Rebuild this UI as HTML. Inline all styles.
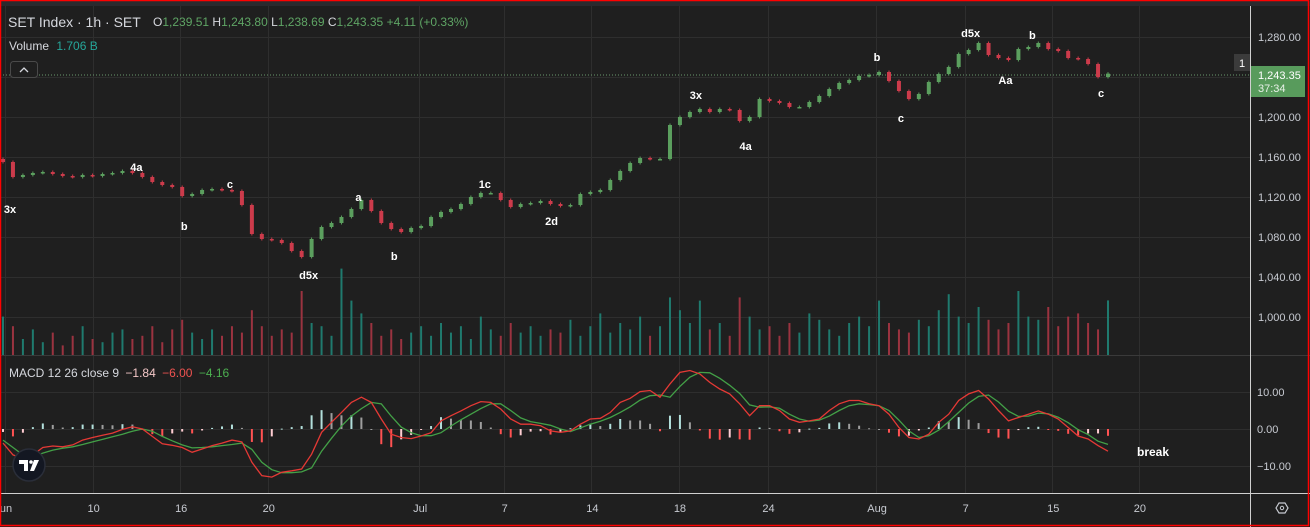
<!DOCTYPE html>
<html><head><meta charset="utf-8">
<style>
html,body{margin:0;padding:0;background:#1f1f1f;}
#wrap{position:relative;width:1310px;height:527px;overflow:hidden;background:#1f1f1f;font-family:"Liberation Sans",sans-serif;}
svg text{font-family:"Liberation Sans",sans-serif;}
</style></head>
<body>
<div id="wrap">
<svg id="chart" width="1310" height="527" xmlns="http://www.w3.org/2000/svg">
<rect x="0" y="0" width="1310" height="527" fill="#1f1f1f"/>
<rect x="0" y="1" width="1310" height="5" fill="#2a2a2e"/>
<g id="grid"></g>
<g id="vol"></g>
<line x1="0" y1="75" x2="1250" y2="75" stroke="#6a9a6e" stroke-width="1" stroke-dasharray="1,2"/>
<g id="candles"></g>
<g id="hist"></g>
<path id="sigLine" fill="none" stroke="#43a047" stroke-width="1.3"/>
<path id="macdLine" fill="none" stroke="#e53935" stroke-width="1.3"/>
<g id="labels" fill="#ffffff" font-size="11" font-weight="bold" text-anchor="middle"></g>
<line x1="0" y1="355.5" x2="1310" y2="355.5" stroke="#3a3a3a"/>
<line x1="1250.5" y1="6" x2="1250.5" y2="527" stroke="#d0d0d0"/>
<line x1="0" y1="493.5" x2="1310" y2="493.5" stroke="#d0d0d0"/>
<g id="yaxis" fill="#c8cbd2" font-size="11"></g>
<g id="maxis" fill="#c8cbd2" font-size="11"></g>
<g id="xaxis" fill="#c8cbd2" font-size="11" text-anchor="middle"></g>
<text x="8" y="27" font-size="14" fill="#d6d8de">SET Index · 1h · SET</text>
<g font-size="12">
<text x="153" y="26" fill="#d6d8de">O<tspan fill="#5fa565">1,239.51</tspan> H<tspan fill="#5fa565">1,243.80</tspan> L<tspan fill="#5fa565">1,238.69</tspan> C<tspan fill="#5fa565">1,243.35</tspan> <tspan fill="#5fa565">+4.11 (+0.33%)</tspan></text>
</g>
<text x="9" y="50" font-size="12" fill="#d6d8de">Volume <tspan fill="#26a69a" dx="4">1.706 B</tspan></text>
<g><rect x="10.5" y="61.5" width="27" height="16" rx="3" fill="#1f1f1f" stroke="#4a4a4a"/><path d="M20 72 L24 68 L28 72" fill="none" stroke="#d6d8de" stroke-width="1.3"/></g>
<text x="9" y="377" font-size="12" fill="#d6d8de">MACD 12 26 close 9 <tspan fill="#f4c7c7" dx="3">−1.84</tspan> <tspan fill="#ef5350" dx="3">−6.00</tspan> <tspan fill="#4caf50" dx="3">−4.16</tspan></text>
<g><rect x="1251" y="66" width="54" height="31" fill="#589b5c"/><text x="1258" y="79" font-size="11" fill="#fff">1,243.35</text><text x="1258" y="92" font-size="11" fill="#e8f0e8">37:34</text></g>
<g><rect x="1234" y="54" width="16" height="17" fill="#3b3b3b"/><text x="1242" y="67" font-size="11" fill="#fff" text-anchor="middle">1</text></g>
<text x="1137" y="456" font-size="12" font-weight="bold" fill="#fff">break</text>
<g><circle cx="29" cy="465" r="16" fill="#131722" stroke="#2a2e39" stroke-width="1.5"/><path d="M19 460 h9 v11 h-4 v-7 h-5z M30 471 l4-11 h5 l-5 11z" fill="#fff"/><circle cx="31" cy="462" r="1.8" fill="#fff"/></g>
<g><path d="M1276 508 l3-5 h6 l3 5 l-3 5 h-6z" fill="none" stroke="#c8cbd2" stroke-width="1.2"/><circle cx="1282" cy="508" r="1.7" fill="none" stroke="#c8cbd2"/></g>
<rect x="0.5" y="0.5" width="1308" height="525" fill="none" stroke="#ff0000" stroke-width="1.5"/>
</svg>
</div>
<script>
const closes=[1155,1140,1142,1144,1145,1143,1141,1140,1142,1141,1143,1144,1146,1144,1140,1135,1132,1130,1121,1123,1127,1128,1127,1126,1112,1083,1078,1077,1074,1066,1060,1078,1090,1094,1100,1108,1117,1106,1094,1088,1085,1089,1091,1100,1105,1108,1113,1120,1124,1124,1117,1110,1113,1114,1116,1113,1111,1112,1123,1125,1127,1137,1146,1154,1159,1158,1158,1192,1200,1205,1208,1205,1208,1207,1196,1200,1218,1216,1214,1210,1210,1215,1221,1228,1234,1237,1241,1242,1245,1236,1226,1218,1223,1235,1243,1250,1263,1267,1274,1262,1259,1257,1268,1270,1274,1268,1266,1259,1258,1253,1240,1243.35];
const volumes=[1.2,0.9,0.5,0.8,0.4,0.7,0.3,0.6,0.9,0.5,0.4,0.7,0.8,0.5,0.6,0.9,0.4,0.8,1.1,0.7,0.5,0.8,0.6,0.9,0.7,1.4,0.9,0.6,0.8,0.7,2.0,1.0,0.9,0.6,2.7,1.7,1.3,1.0,0.6,0.8,0.5,0.7,0.9,0.6,1.0,0.7,0.9,0.5,1.2,0.8,0.6,1.0,0.7,0.9,0.6,0.8,0.7,1.1,0.6,0.9,1.3,0.7,1.0,0.8,1.2,0.6,0.9,1.8,1.4,1.0,1.7,0.8,1.0,0.6,1.8,1.2,0.8,0.9,0.6,1.0,0.7,1.3,1.1,0.8,0.6,1.0,1.2,0.9,1.7,1.0,0.8,0.7,1.1,0.9,1.4,1.9,1.2,1.0,1.5,1.1,0.8,1.0,2.0,1.2,1.1,1.5,0.9,1.2,1.3,1.0,0.8,1.706];
const macd=[-3.8,-7,-8,-7,-5,-4.6,-4.8,-4.3,-3,-2.3,-1.7,-1.1,-0.1,0.6,0,-2,-4,-4.4,-5,-6.3,-5.4,-4.5,-3.8,-3,-3.5,-9,-12.6,-13,-11.7,-11.3,-10.8,-6.8,-0.9,1.8,4.5,7.2,8.6,7.2,2.7,-1.4,-2.3,-2.6,-1.9,-1,2.2,3.6,4.9,6.3,7.4,7.2,5.4,2.7,1.3,1.3,0.9,-0.5,-0.9,-0.5,1.3,2.7,2.9,4.5,7.2,8.3,10.1,10.4,8.6,12.2,15.3,15.8,14.9,12.6,10.8,9.5,6.8,3.6,6.3,6.3,5,2.7,1.8,2.2,2.7,5,6.8,7.7,7.7,6.8,6.3,4,0.4,-2.3,-2.7,-1.4,1.8,4,7.7,9.5,10.4,8.1,5,2.2,3.1,4,4.9,4,2.7,0.4,-1.9,-2.7,-4.5,-6];
const signal=[-3,-5,-7,-7.5,-6.5,-5.7,-5.2,-4.8,-4.2,-3.5,-2.8,-2.1,-1.4,-0.6,0,-0.6,-2,-3.2,-4.3,-5.1,-5,-4.8,-4.5,-4.2,-3.8,-5.5,-9,-11,-11.8,-11.8,-11.6,-10.5,-6,-2.5,0.8,3.5,5.5,7.2,6.8,3.5,0.5,-1,-1.8,-1.8,-1,0.8,2.5,4,5.5,6.8,6.8,5,3,2,1.5,1,0,-0.7,0.3,1.3,2.1,3.1,4.5,6,7.8,9,9.2,8.6,11.5,14,15.3,15.2,13.7,11.8,9.6,6.5,5.9,6,5.6,4,2.7,2.1,2.4,3.5,5,6.3,6.8,6.6,6.3,5,2.4,-0.5,-2.3,-1.8,-0.3,2,4.5,7,8.8,9.2,7.3,4.8,3.4,3.5,4.3,4.1,3.2,1.7,-0.2,-1.5,-3.3,-4.16];
const priceTicks=[1280,1200,1160,1120,1080,1040,1000];
const macdTicks=[10,0,-10];
const timeLabels=["un","10","16","20","Jul","7","14","18","24","Aug","7","15","20"];
const timeIdx=[0.2,9,17.8,26.6,41.8,50.3,59.1,67.9,76.8,87.7,96.6,105.4,114.1];
const waveLabels=["3x","4a","b","c","d5x","a","b","1c","2d","3x","4a","b","c","d5x","Aa","b","c"];
const waveIdx=[0.7,13.4,18.2,22.8,30.7,35.7,39.3,48.4,55.1,69.6,74.6,87.8,90.2,97.2,100.7,103.4,110.3];
const waveVal=[1108,1150,1091,1133,1042,1120,1061,1133,1096,1222,1171,1260,1199,1284,1237,1282,1224];

const NS="http://www.w3.org/2000/svg";
const x0=3, step=(1108-3)/(closes.length-1);
const xs=i=>x0+i*step;
const py=p=>317-(p-1000);
const my=v=>429-v*3.7;
const vy=v=>355-v*32;
function mk(tag,parent,attrs){const e=document.createElementNS(NS,tag);for(const k in attrs)e.setAttribute(k,attrs[k]);parent.appendChild(e);return e;}
const grid=document.getElementById('grid');
priceTicks.concat([1240]).forEach(p=>{const l=mk('line',grid,{x1:0,x2:1250,y1:py(p)+0.5,y2:py(p)+0.5,stroke:'#2e2e2e'});

});
macdTicks.forEach(v=>{const l=mk('line',grid,{x1:0,x2:1250,y1:my(v)+0.5,y2:my(v)+0.5,stroke:'#2e2e2e'});

});
timeIdx.forEach(i=>{const l=mk('line',grid,{x1:Math.round(xs(i))+0.5,x2:Math.round(xs(i))+0.5,y1:6,y2:493,stroke:'#2e2e2e'});

});
const volG=document.getElementById('vol');
volumes.forEach((v,i)=>{const up=i===0||closes[i]>=closes[i-1];
const r=mk('rect',volG,{x:xs(i)-1,y:vy(v),width:2,height:355-vy(v),fill:up?'#1f7a6e':'#9b3340'});

});
const cG=document.getElementById('candles');
closes.forEach((c,i)=>{const o=i===0?c+3:closes[i-1];const up=c>=o;const col=up?'#5b9f5e':'#cc3b4b';
const hi=Math.max(o,c)+1.5, lo=Math.min(o,c)-1.5;
const g=mk('g',cG,{});


mk('line',g,{x1:xs(i),x2:xs(i),y1:py(hi),y2:py(lo),stroke:col,'stroke-width':1});
mk('rect',g,{x:xs(i)-2,y:py(Math.max(o,c)),width:4,height:Math.max(1.5,Math.abs(c-o)),fill:col});});
const hG=document.getElementById('hist');
macd.forEach((m,i)=>{const h=m-signal[i];const prev=i?macd[i-1]-signal[i-1]:h;
const col=h>=0?(h>=prev?'#b2dfdb':'#9e9e9e'):(h<prev?'#ff5252':'#ffcdd2');
const y1=my(Math.max(h,0)),y2=my(Math.min(h,0));
const r=mk('rect',hG,{x:xs(i)-1,y:y1,width:2,height:Math.max(1,y2-y1),fill:col});

});
document.getElementById('macdLine').setAttribute('d',macd.map((v,i)=>(i?'L':'M')+xs(i).toFixed(1)+' '+my(v).toFixed(1)).join(' '));
document.getElementById('sigLine').setAttribute('d',signal.map((v,i)=>(i?'L':'M')+xs(i).toFixed(1)+' '+my(v).toFixed(1)).join(' '));
const lG=document.getElementById('labels');
waveLabels.forEach((t,i)=>{const e=mk('text',lG,{x:xs(waveIdx[i]),y:py(waveVal[i])+4});e.textContent=t;

});
const yA=document.getElementById('yaxis');
priceTicks.forEach(p=>{const e=mk('text',yA,{x:1258,y:py(p)+4});e.textContent=p.toLocaleString('en-US')+'.00';

});
const mA=document.getElementById('maxis');
macdTicks.forEach(v=>{const e=mk('text',mA,{x:1257,y:my(v)+4});e.textContent=(v<0?'−':'')+Math.abs(v).toFixed(2);

});
const xA=document.getElementById('xaxis');
timeLabels.forEach((t,i)=>{const e=mk('text',xA,{x:xs(timeIdx[i])+1,y:512});e.textContent=t;

});
</script>
</body></html>
